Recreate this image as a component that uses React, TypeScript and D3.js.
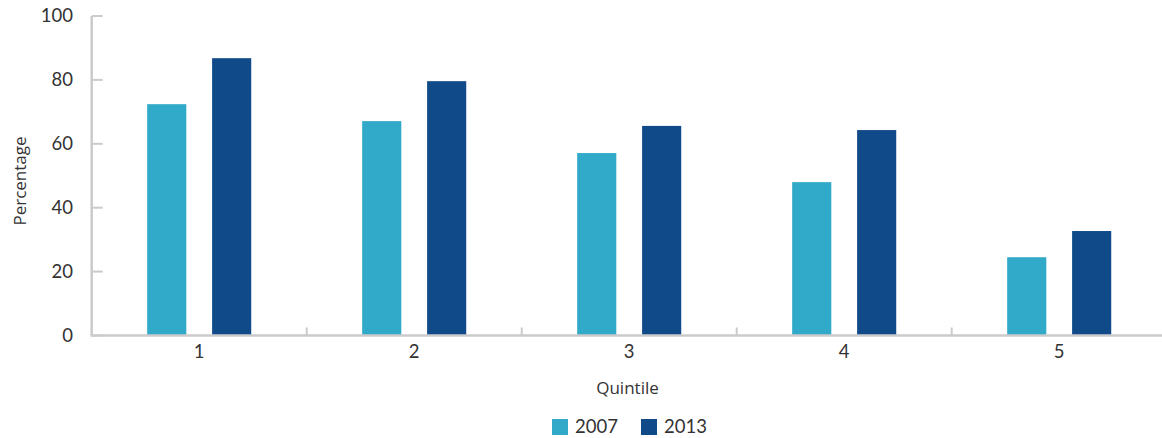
import React from "react";
import * as d3 from "d3";

const categories = ["1", "2", "3", "4", "5"];
const seriesNames = ["2007", "2013"];
const values2007 = [72.4, 67.1, 57.1, 48.0, 24.5];
const values2013 = [86.8, 79.6, 65.6, 64.3, 32.7];
const yTicks = [0, 20, 40, 60, 80, 100];
const colors = ["#31A9C9", "#104A89"];

const W = 1162;
const H = 438;
const margin = { left: 91.7, right: -4.7, top: 16, bottom: 102.5 };

export default function App() {
  const x0 = d3
    .scaleBand<string>()
    .domain(categories)
    .range([margin.left, W - margin.right])
    .paddingInner(0)
    .paddingOuter(0);
  const y = d3.scaleLinear().domain([0, 100]).range([H - margin.bottom, margin.top]);
  const bw = x0.bandwidth();
  const barW = bw * 0.182;
  const gap = bw * 0.12;
  const series = [values2007, values2013];
  const font = "Lato, 'Open Sans', sans-serif";
  const titleFont = "'Open Sans', sans-serif";
  const axisColor = "#cbcbcb";
  const y0 = y(0);

  return (
    <svg
      width={W}
      height={H}
      style={{ position: "absolute", left: 0, top: 0, display: "block" }}
      fontFamily={font}
    >
      {/* y axis */}
      <line x1={margin.left} x2={margin.left} y1={y(100)} y2={y0} stroke={axisColor} strokeWidth={2.5} />
      {yTicks.map((t) => (
        <g key={t}>
          <line x1={margin.left} x2={margin.left + 11} y1={y(t)} y2={y(t)} stroke={axisColor} strokeWidth={2} />
          <text x={73} y={y(t)} dy="0.35em" textAnchor="end" fontSize={18.5} fill="#333">
            {t}
          </text>
        </g>
      ))}
      {/* bars */}
      {categories.map((c, i) => {
        const cx = (x0(c) as number) + bw / 2;
        return (
          <g key={c}>
            {series.map((s, j) => {
              const bx = j === 0 ? cx - gap / 2 - barW : cx + gap / 2;
              return (
                <rect
                  key={j}
                  x={bx}
                  y={y(s[i])}
                  width={barW}
                  height={y0 - y(s[i])}
                  fill={colors[j]}
                />
              );
            })}
            <text x={cx} y={352} dy="0.35em" textAnchor="middle" fontSize={18.5} fill="#333">
              {c}
            </text>
          </g>
        );
      })}
      {/* x axis */}
      <line x1={margin.left - 1.2} x2={W} y1={y0} y2={y0} stroke={axisColor} strokeWidth={2.5} />
      {categories.slice(1).map((c) => (
        <line
          key={c}
          x1={x0(c) as number}
          x2={x0(c) as number}
          y1={y0}
          y2={y0 - 8}
          stroke={axisColor}
          strokeWidth={2}
        />
      ))}
      {/* axis titles */}
      <text
        x={627.5}
        y={388}
        dy="0.35em"
        textAnchor="middle"
        fontSize={17}
        fill="#333"
        fontFamily={titleFont}
      >
        Quintile
      </text>
      <text
        transform={`translate(20, 181) rotate(-90)`}
        dy="0.35em"
        textAnchor="middle"
        fontSize={17}
        fill="#333"
        fontFamily={titleFont}
      >
        Percentage
      </text>
      {/* legend */}
      {seriesNames.map((n, j) => {
        const lx = j === 0 ? 552 : 641;
        return (
          <g key={n}>
            <rect x={lx} y={419} width={16} height={16} fill={colors[j]} />
            <text x={lx + 23} y={427} dy="0.35em" fontSize={18.5} fill="#333">
              {n}
            </text>
          </g>
        );
      })}
    </svg>
  );
}
